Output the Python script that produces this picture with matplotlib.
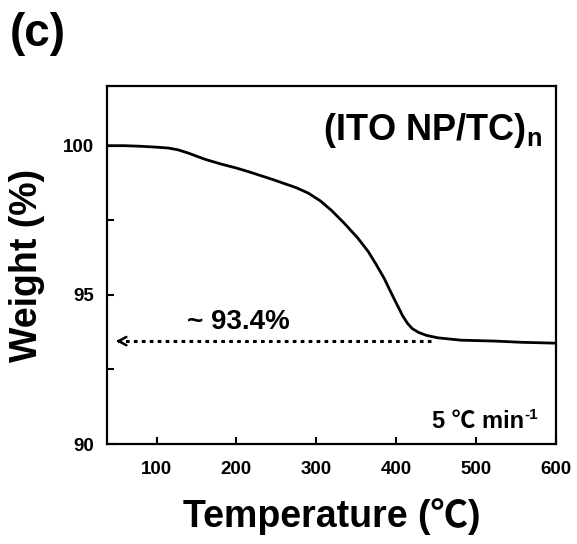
import matplotlib
matplotlib.use("Agg")
import matplotlib.pyplot as plt

plt.rcParams['font.family'] = ['Liberation Sans', 'Noto Sans CJK KR', 'DejaVu Sans']
plt.rcParams['font.weight'] = 'bold'
plt.rcParams['mathtext.fontset'] = 'custom'
plt.rcParams['mathtext.rm'] = 'Liberation Sans:bold'
plt.rcParams['mathtext.default'] = 'rm'

# TGA curve
temp = [38, 60, 80, 100, 115, 127, 140, 160, 180, 200, 215, 230, 245, 260, 275,
        290, 305, 319, 335, 352, 365, 374, 385, 394, 402, 408, 414, 420, 428,
        438, 452, 481, 524, 556, 600]
weight = [100.0, 100.0, 99.98, 99.95, 99.92, 99.86, 99.75, 99.55, 99.39, 99.25,
          99.13, 99.0, 98.87, 98.73, 98.59, 98.41, 98.15, 97.83, 97.4, 96.9,
          96.45, 96.06, 95.55, 95.05, 94.62, 94.3, 94.05, 93.87, 93.74, 93.64,
          93.56, 93.48, 93.45, 93.41, 93.38]

residue = 93.45
arrow_from = 444
arrow_to = 46

xticks = [100, 200, 300, 400, 500, 600]
yticks = [90, 95, 100]

fig = plt.figure(figsize=(5.77, 5.44), dpi=100)
ax = fig.add_axes([0.1854, 0.1838, 0.7782, 0.6581])

ax.plot(temp, weight, color='black', lw=2)

# dotted guide + open arrow head
ax.plot([arrow_from, arrow_to + 4], [residue, residue], color='black', lw=2.2,
        linestyle=(0, (1.2, 1.4)))
ax.annotate('', xy=(arrow_to, residue), xytext=(arrow_to + 12, residue),
            arrowprops=dict(arrowstyle='->,head_length=0.55,head_width=0.3',
                            color='black', lw=1.8))

ax.set_xlim(38, 600)
ax.set_ylim(90, 102)
ax.set_xticks(xticks)
ax.set_yticks(yticks)
ax.set_yticks([92.5, 97.5], minor=True)

ax.tick_params(axis='both', which='both', direction='in', length=5, width=1.5,
               labelsize=13.5)
ax.tick_params(axis='x', pad=12)
ax.tick_params(axis='y', pad=9)
for sp in ax.spines.values():
    sp.set_linewidth(1.6)

ax.set_xlabel('Temperature (℃)', fontsize=27, fontweight='bold', labelpad=15)
ax.set_ylabel('Weight (%)', fontsize=27, fontweight='bold', labelpad=13)

ax.text(582, 100.5, '(ITO NP/TC)$_{n}$', fontsize=26, fontweight='bold',
        ha='right', va='center')
ax.text(138, 93.84, '~ 93.4%', fontsize=20, fontweight='bold',
        ha='left', va='baseline')
ax.text(560, 90.53, '5 ℃ min', fontsize=17, fontweight='bold',
        ha='right', va='baseline')
ax.text(561, 90.85, '-1', fontsize=11, fontweight='bold',
        ha='left', va='baseline')

fig.text(0.017, 0.938, '(c)', fontsize=33, fontweight='bold',
         ha='left', va='center')

fig.savefig('out.png', dpi=100)
